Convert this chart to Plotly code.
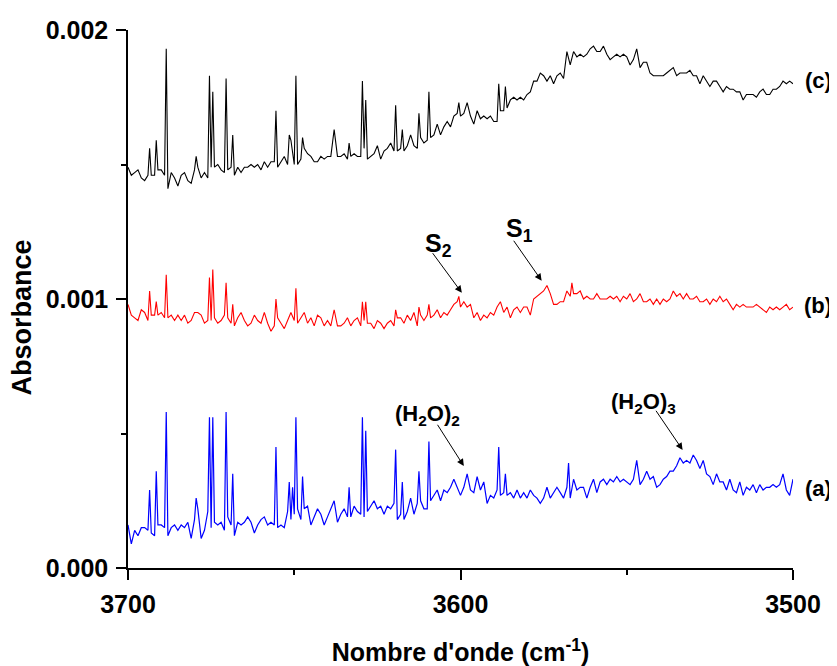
import plotly.graph_objects as go

# Sampling grid (cm^-1), from 3700 down to 3500 in 1 cm^-1 steps
wavenumber = list(range(3700, 3499, -1))

# Absorbance values in units of 1e-5 (3700 -> 3500)
spectrum_a_1e5 = [
    16, 9, 14, 12, 15, 15, 14, 13, 12, 16,
    16, 15, 12, 15, 16, 14, 16, 15, 17, 11,
    18, 22, 11, 14, 21, 15, 17, 16, 17, 14,
    19, 16, 12, 17, 16, 17, 19, 17, 13, 16,
    18, 19, 16, 17, 16, 15, 16, 15, 21, 18,
    20, 22, 18, 22, 23, 16, 19, 22, 20, 16,
    19, 22, 25, 17, 20, 22, 19, 19, 23, 21,
    20, 19, 21, 23, 25, 22, 23, 20, 23, 22,
    24, 18, 20, 18, 21, 26, 20, 24, 25, 22,
    22, 25, 27, 29, 25, 29, 28, 30, 33, 30,
    27, 30, 35, 29, 28, 34, 29, 32, 24, 27,
    26, 29, 27, 28, 27, 28, 26, 29, 26, 28,
    26, 29, 27, 26, 24, 26, 30, 26, 28, 30,
    28, 26, 30, 26, 33, 29, 30, 30, 26, 30,
    33, 28, 32, 33, 31, 33, 32, 34, 32, 33,
    32, 31, 33, 40, 31, 33, 36, 33, 34, 30,
    31, 33, 34, 36, 36, 38, 41, 39, 40, 39,
    42, 40, 37, 40, 35, 34, 31, 35, 32, 32,
    29, 33, 29, 28, 32, 27, 30, 29, 31, 28,
    31, 29, 30, 30, 31, 30, 31, 35, 29, 27,
    33,
]
peaks_a_pos = [3693.5, 3691.5, 3688.5, 3679.5, 3675.5, 3674.5, 3670.5, 3668.5,
               3655.5, 3651.5, 3650.5, 3649.5, 3647.5, 3633.5, 3629.5, 3628.5,
               3619.5, 3617.5, 3612.5, 3609.5, 3588.5, 3586.5, 3567.5]
peaks_a_1e5 = [29, 36, 58, 26, 56, 56, 58, 35,
               45, 32, 30, 56, 34, 30, 56, 51,
               44, 32, 36, 47, 45, 35, 39]

spectrum_b_1e5 = [
    98, 94, 93, 92, 96, 95, 92, 94, 94, 94,
    95, 93, 93, 94, 92, 94, 92, 94, 91, 92,
    95, 95, 94, 91, 92, 92, 93, 91, 92, 94,
    93, 91, 90, 93, 95, 92, 90, 91, 94, 92,
    91, 95, 91, 88, 90, 93, 91, 89, 92, 95,
    92, 91, 93, 95, 91, 93, 90, 94, 93, 90,
    92, 90, 96, 90, 90, 91, 93, 90, 92, 93,
    90, 92, 91, 91, 89, 92, 91, 89, 91, 92,
    90, 93, 93, 91, 94, 92, 95, 90, 94, 92,
    94, 93, 94, 96, 93, 95, 94, 96, 98, 99,
    97, 99, 97, 98, 93, 95, 92, 94, 93, 95,
    94, 97, 99, 95, 97, 93, 96, 97, 95, 97,
    97, 94, 100, 101, 102, 103, 105, 102, 98, 98,
    99, 99, 103, 101, 102, 102, 103, 100, 101, 100,
    100, 102, 100, 100, 100, 101, 100, 101, 99, 101,
    100, 102, 99, 100, 102, 99, 99, 100, 98, 100,
    98, 100, 99, 100, 103, 101, 102, 100, 102, 100,
    100, 101, 99, 99, 100, 98, 100, 99, 101, 99,
    100, 98, 96, 98, 97, 98, 97, 97, 97, 98,
    97, 96, 95, 97, 96, 97, 96, 97, 98, 96,
    97,
]
peaks_b_pos = [3693.5, 3691.5, 3688.5, 3675.5, 3674.5, 3670.5, 3668.5, 3655.5,
               3649.5, 3629.5, 3628.5, 3619.5, 3612.5, 3609.5, 3600.5, 3566.5]
peaks_b_1e5 = [103, 99, 109, 108, 111, 106, 98, 100,
               104, 99, 99, 96, 97, 98, 101, 106]

spectrum_c_1e5 = [
    149, 146, 147, 148, 145, 144, 146, 146, 146, 148,
    148, 146, 141, 147, 145, 142, 146, 147, 144, 143,
    148, 149, 145, 147, 145, 149, 149, 150, 148, 147,
    148, 149, 146, 149, 147, 149, 149, 150, 149, 150,
    148, 151, 149, 151, 151, 149, 151, 153, 150, 159,
    150, 150, 152, 156, 154, 153, 151, 151, 153, 152,
    153, 153, 163, 153, 153, 154, 152, 153, 154, 153,
    153, 156, 152, 153, 154, 157, 152, 155, 156, 158,
    155, 155, 156, 155, 157, 161, 157, 156, 160, 158,
    159, 160, 161, 165, 161, 164, 166, 164, 168, 169,
    168, 169, 173, 168, 165, 170, 167, 168, 167, 168,
    166, 166, 170, 170, 171, 174, 175, 174, 175, 174,
    176, 177, 181, 181, 184, 183, 181, 183, 180, 183,
    184, 182, 192, 187, 192, 190, 191, 190, 191, 193,
    194, 192, 192, 194, 191, 189, 190, 191, 190, 191,
    190, 187, 189, 193, 186, 188, 188, 184, 183, 183,
    183, 183, 184, 185, 186, 183, 184, 184, 184, 185,
    183, 183, 180, 183, 181, 179, 181, 181, 179, 177,
    179, 178, 178, 177, 177, 174, 176, 176, 176, 175,
    177, 178, 176, 176, 178, 178, 179, 181, 180, 181,
    180,
]
peaks_c_pos = [3693.5, 3691.5, 3688.5, 3679.5, 3675.5, 3674.5, 3670.5, 3668.5,
               3655.5, 3651.5, 3649.5, 3647.5, 3633.5, 3629.5, 3628.5, 3619.5,
               3617.5, 3612.5, 3609.5, 3600.5, 3588.5, 3586.5]
peaks_c_1e5 = [156, 159, 193, 153, 183, 177, 182, 161,
               170, 161, 183, 160, 158, 181, 174, 172,
               163, 169, 177, 173, 180, 179]

x_ticks = [3700, 3600, 3500]
x_tick_labels = ["3700", "3600", "3500"]
y_ticks = [0.0, 0.001, 0.002]
y_tick_labels = ["0.000", "0.001", "0.002"]

for name, arr in [("a", spectrum_a_1e5), ("b", spectrum_b_1e5), ("c", spectrum_c_1e5)]:
    if len(arr) != len(wavenumber):
        raise ValueError(f"spectrum {name} has {len(arr)} values")


def combine(base, pk_pos, pk_val):
    pts = list(zip(wavenumber, base)) + list(zip(pk_pos, pk_val))
    pts.sort(key=lambda p: -p[0])
    return [p[0] for p in pts], [p[1] * 1e-5 for p in pts]


xa, ya = combine(spectrum_a_1e5, peaks_a_pos, peaks_a_1e5)
xb, yb = combine(spectrum_b_1e5, peaks_b_pos, peaks_b_1e5)
xc, yc = combine(spectrum_c_1e5, peaks_c_pos, peaks_c_1e5)

FONT = "Liberation Sans, Arial, sans-serif"

fig = go.Figure()
fig.add_trace(go.Scatter(x=xa, y=ya, mode="lines", line=dict(color="#0000ff", width=1.2), name="(a)"))
fig.add_trace(go.Scatter(x=xb, y=yb, mode="lines", line=dict(color="#ff0000", width=1.1), name="(b)"))
fig.add_trace(go.Scatter(x=xc, y=yc, mode="lines", line=dict(color="#000000", width=1.1), name="(c)"))

axis_common = dict(
    showline=True, linecolor="black", linewidth=1.5, mirror=False,
    showgrid=False, zeroline=False, ticks="outside", ticklen=10, tickwidth=1.5,
    tickcolor="black", automargin=False,
    tickfont=dict(family=FONT, size=25, color="black", weight="bold"),
)

# The page adds an 8 px body margin, so the figure is 8 px smaller and margins are offset.
fig.update_layout(
    width=829, height=658,
    margin=dict(l=120, r=44, t=22, b=98),
    paper_bgcolor="white", plot_bgcolor="white",
    showlegend=False,
    xaxis=dict(
        range=[3700, 3500], tickvals=x_ticks, ticktext=x_tick_labels,
        minor=dict(tickvals=[3650, 3550], ticks="outside", ticklen=5, tickwidth=1.5, tickcolor="black"),
        title=dict(text="Nombre d'onde (cm<sup>-1</sup>)", standoff=29,
                   font=dict(family=FONT, size=25, color="black", weight="bold")),
        ticklabelstandoff=3,
        **axis_common,
    ),
    yaxis=dict(
        range=[0, 0.002], tickvals=y_ticks, ticktext=y_tick_labels,
        minor=dict(tickvals=[0.0005, 0.0015], ticks="outside", ticklen=5, tickwidth=1.5, tickcolor="black"),
        ticklabelstandoff=3,
        **axis_common,
    ),
)

# Y-axis title (placed as an annotation so it sits slightly below centre, as in the original)
fig.add_annotation(text="Absorbance", xref="paper", yref="paper", x=-0.159, y=0.466,
                   textangle=-90, showarrow=False, xanchor="center", yanchor="middle",
                   font=dict(family=FONT, size=27, color="black", weight="bold"))

ann_font = dict(family=FONT, size=22, color="black", weight="bold")
s_font = dict(family=FONT, size=25, color="black", weight="bold")

# Series labels on the right
for label, yv in [("(c)", 0.001814), ("(b)", 0.000974), ("(a)", 0.000297)]:
    fig.add_annotation(x=1.038, xref="paper", y=yv, yref="y", text=label,
                       showarrow=False, font=ann_font, xanchor="center", yanchor="middle")

# Peak labels
labels = [
    ("S<sub>2</sub>", 3606.6, 0.001200, s_font),
    ("S<sub>1</sub>", 3582.4, 0.001255, s_font),
    ("(H<sub>2</sub>O)<sub>2</sub>", 3609.8, 0.000570, ann_font),
    ("(H<sub>2</sub>O)<sub>3</sub>", 3545.1, 0.000612, ann_font),
]
for txt, xv, yv, fnt in labels:
    fig.add_annotation(x=xv, y=yv, xref="x", yref="y", text=txt, showarrow=False,
                       font=fnt, xanchor="center", yanchor="middle")

# Arrows: (head x, head y, tail x, tail y)
arrows = [
    (3599.6, 0.001023, 3608.7, 0.001176),
    (3575.6, 0.001068, 3584.3, 0.001222),
    (3599.0, 0.000379, 3607.2, 0.000538),
    (3533.2, 0.000439, 3541.5, 0.000590),
]
for hx, hy, tx, ty in arrows:
    fig.add_annotation(x=hx, y=hy, ax=tx, ay=ty, xref="x", yref="y", axref="x", ayref="y",
                       text="", showarrow=True, arrowhead=2, arrowsize=1.4, arrowwidth=1,
                       arrowcolor="black", standoff=0, startstandoff=0)

fig.write_html("out.html")
